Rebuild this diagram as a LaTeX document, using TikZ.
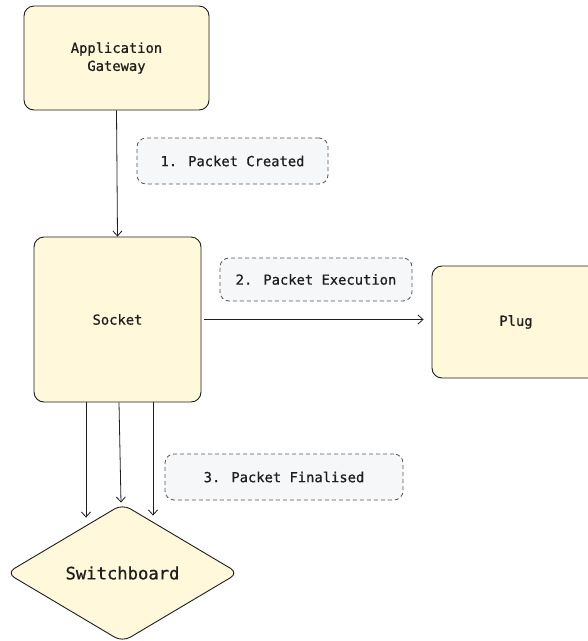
\documentclass[tikz,border=0pt]{standalone}
\usepackage{fontspec}
\newfontfamily\lblfont{DejaVu Sans Mono}[FakeBold=0.7]
\usetikzlibrary{shapes.geometric,arrows.meta}
\definecolor{boxfill}{HTML}{FFF8DA}
\definecolor{notefill}{HTML}{F6F7F9}
\definecolor{ink}{HTML}{1E1E1E}
\tikzset{
  block/.style={draw=ink, fill=boxfill, line width=0.9pt, rounded corners=10pt,
    font=\lblfont\fontsize{13.8}{18}\selectfont, text=ink, align=center, inner sep=0pt},
  note/.style={draw=ink!75, fill=notefill, line width=0.8pt, dash pattern=on 4pt off 3pt,
    rounded corners=9pt, font=\lblfont\fontsize{13.8}{17}\selectfont, text=ink, inner sep=0pt},
  arr/.style={draw=ink, line width=0.8pt, -{Straight Barb[length=5pt,width=9pt]}},
}
\begin{document}
\begin{tikzpicture}[x=1pt,y=-1pt]
\useasboundingbox[fill=white] (0,0) rectangle (588,641);

% main blocks
\node[block, minimum width=185pt, minimum height=104pt] (gw) at (116.5,58)
  {Application\\ Gateway};
\node[block, minimum width=167pt, minimum height=165pt] (sock) at (117.5,319.5) {Socket};
\node[block, minimum width=168pt, minimum height=112pt] (plug) at (516,322) {Plug};
\node[draw=ink, fill=boxfill, line width=0.9pt, rounded corners=9pt, diamond, aspect=1.69,
  minimum width=232pt, minimum height=138pt, inner sep=0pt, text=ink,
  font=\lblfont\fontsize{17.2}{20}\selectfont] (sw) at (122.5,573) {Switchboard};

% step notes
\node[note, minimum width=191pt, minimum height=46pt] (n1) at (232.5,161) {1. Packet Created};
\node[note, minimum width=192pt, minimum height=43pt] (n2) at (316,279.5) {2. Packet Execution};
\node[note, minimum width=238pt, minimum height=46pt] (n3) at (284,477) {3. Packet Finalised};

% connectors
\draw[arr] (gw.south) -- (sock.north);
\draw[arr] ([xshift=3pt]sock.east) -- ([xshift=-8pt]plug.west |- sock.east);
\draw[arr] (sock.south -| 86,0) -- ([xshift=-36.5pt,yshift=-14pt]sw.north);
\draw[arr] (sock.south -| 119,0) -- ([xshift=-1.5pt,yshift=1pt]sw.north);
\draw[arr] (sock.south -| 153,0) -- ([xshift=30.5pt,yshift=-12pt]sw.north);
\end{tikzpicture}
\end{document}
